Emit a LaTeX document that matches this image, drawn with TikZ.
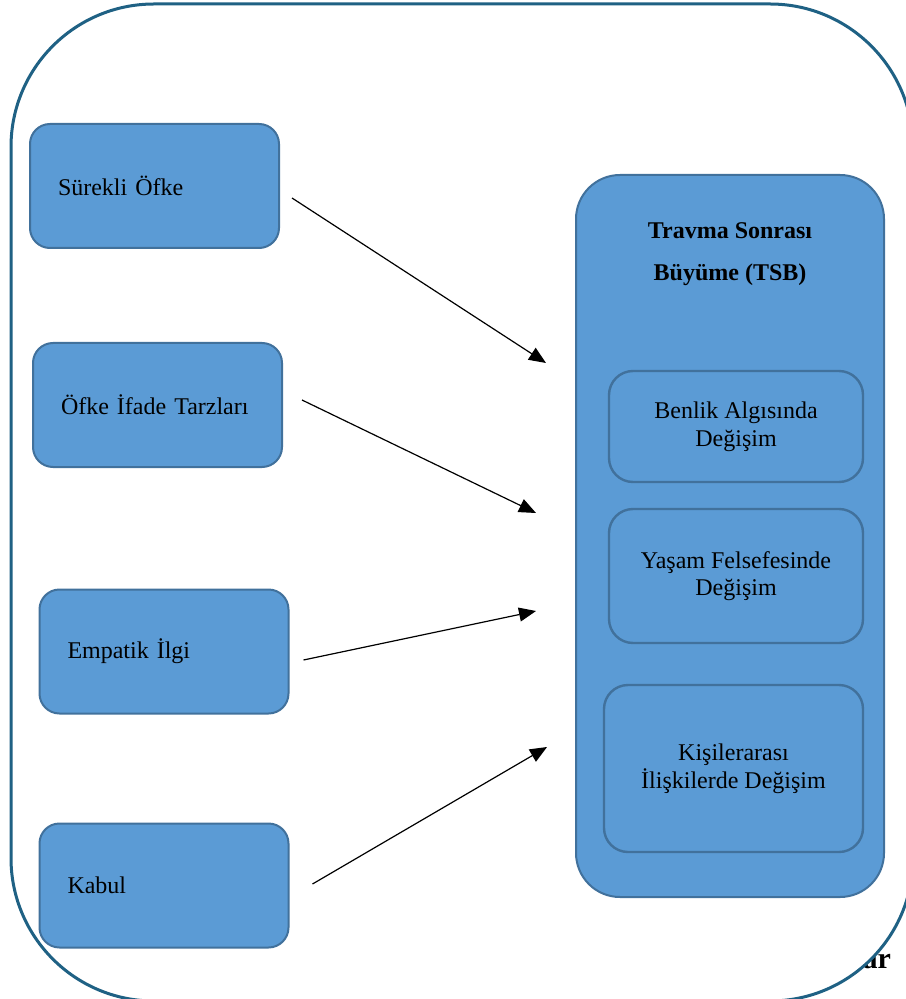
\documentclass[tikz,border=0pt]{standalone}
\usepackage{fontspec}
\setmainfont{Liberation Serif}
\usetikzlibrary{arrows.meta}
\definecolor{boxfill}{RGB}{91,155,213}
\definecolor{boxline}{RGB}{65,113,156}
\definecolor{frameline}{RGB}{31,97,132}
\tikzset{
  frame/.style={draw=frameline,line width=1.5pt,fill=white,rounded corners=71.5pt},
  leftbox/.style={draw=boxline,fill=boxfill,line width=1pt,rounded corners=10pt,
    minimum width=124.5pt,minimum height=62pt,inner xsep=14pt,text width=96.5pt,align=left,
    font=\fontsize{12}{13.8}\selectfont},
  bigbox/.style={draw=boxline,fill=boxfill,line width=1pt,rounded corners=22pt,
    minimum width=154pt,minimum height=361pt},
  subbox/.style={draw=boxline,fill=boxfill,line width=1.2pt,rounded corners=12pt,
    minimum width=127pt,align=center,font=\fontsize{12}{13.8}\selectfont},
  arr/.style={-{Triangle[length=8.5pt,width=7pt]},line width=0.6pt}
}
\begin{document}
\begin{tikzpicture}[x=0.5pt,y=-0.5pt]
\useasboundingbox (0,0) rectangle (905,999);
\node[anchor=base east,font=\fontsize{15}{17}\selectfont\bfseries] (ar) at (898,968) {ar};
\draw[frame] (11,4) rectangle (913,1001);
\node[leftbox] (sok) at (154.5,186) {Sürekli Öfke};
\node[leftbox] (oit) at (157.5,405) {Öfke İfade Tarzları};
\node[leftbox] (ei) at (164,651.5) {Empatik İlgi};
\node[leftbox] (kab) at (164,885.5) {Kabul};
\node[bigbox] (tsb) at (730,536) {};
\node[align=center,font=\fontsize{12}{14}\selectfont\bfseries] (tsbt) at (730,254)
  {Travma Sonrası\\[7pt]Büyüme (TSB)};
\node[subbox,minimum height=55.5pt] (ben) at (736,426.5) {Benlik Algısında\\Değişim};
\node[subbox,minimum height=67pt] (yas) at (736,576) {Yaşam Felsefesinde\\Değişim};
\node[subbox,minimum height=83.5pt,minimum width=129.5pt] (kis) at (733.5,768.5)
  {Kişilerarası\\İlişkilerde Değişim};
\coordinate (a1) at ([shift={(12,12)}]sok.east);
\coordinate (a2) at ([shift={(19,-5)}]oit.east);
\coordinate (a3) at ([shift={(14,8.5)}]ei.east);
\coordinate (a4) at ([shift={(23,-1.5)}]kab.east);
\coordinate (b1) at ([shift={(-29,-173)}]tsb.west);
\coordinate (b2) at ([shift={(-39,-23)}]tsb.west);
\coordinate (b3) at ([shift={(-39,75)}]tsb.west);
\coordinate (b4) at ([shift={(-28,211)}]tsb.west);
\draw[arr] (a1) -- (b1);
\draw[arr] (a2) -- (b2);
\draw[arr] (a3) -- (b3);
\draw[arr] (a4) -- (b4);
\end{tikzpicture}
\end{document}
